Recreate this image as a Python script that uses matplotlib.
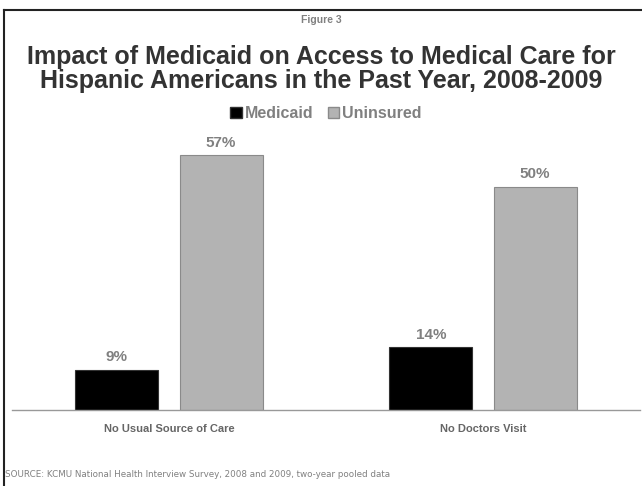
import numpy as np
import matplotlib.pyplot as plt
from matplotlib.lines import Line2D
from matplotlib.patches import Patch

categories = ["No Usual Source of Care", "No Doctors Visit"]
medicaid = [9, 14]
uninsured = [57, 50]
series_names = ["Medicaid", "Uninsured"]

W, H = 642, 486
fig = plt.figure(figsize=(W / 100, H / 100), dpi=100)
plt.rcParams['font.family'] = ['Liberation Sans', 'DejaVu Sans']

def px(x0, y0, x1, y1):
    # pixel box (top-left origin) -> figure fraction rect
    return [x0 / W, 1 - y1 / H, (x1 - x0) / W, (y1 - y0) / H]

ax = fig.add_axes(px(12, 142, 640, 410))
x = np.arange(len(categories))
w = 0.264
off = 0.166
b1 = ax.bar(x - off, medicaid, w, color="black", edgecolor="#333333", linewidth=0.8)
b2 = ax.bar(x + off, uninsured, w, color="#b3b3b3", edgecolor="#8a8a8a", linewidth=0.8)

for bars, vals in [(b1, medicaid), (b2, uninsured)]:
    for r, v in zip(bars, vals):
        ax.text(r.get_x() + r.get_width() / 2, v + 1.3, f"{v}%", ha="center", va="bottom",
                fontsize=11, fontweight="bold", color="#808080")

ax.set_xlim(-0.5, 1.5)
ax.set_ylim(0, 60)
ax.set_yticks([])
ax.set_xticks(x)
ax.set_xticklabels(categories, fontsize=8, fontweight="bold", color="#666666")
ax.tick_params(axis="x", length=0, pad=10)
for s in ["top", "right", "left"]:
    ax.spines[s].set_visible(False)
ax.spines["bottom"].set_color("#999999")
ax.spines["bottom"].set_linewidth(1)

handles = [Patch(facecolor="black", edgecolor="#333333"),
           Patch(facecolor="#b3b3b3", edgecolor="#8a8a8a")]
fig.legend(handles, series_names, loc="center", bbox_to_anchor=(326 / W, 1 - 114 / H),
           ncol=2, frameon=False, handlelength=0.7, handleheight=0.7, handletextpad=0.2,
           columnspacing=0.9, prop={"weight": "bold", "size": 11.5}, labelcolor="#808080")

fig.text(321 / W, 1 - 20 / H, "Figure 3", ha="center", va="center", fontsize=7.5,
         fontweight="bold", color="#808080")
fig.text(321 / W, 1 - 69 / H,
         "Impact of Medicaid on Access to Medical Care for\nHispanic Americans in the Past Year, 2008-2009",
         ha="center", va="center", fontsize=18, fontweight="bold", color="#333333",
         linespacing=1.0)
fig.text(5 / W, 1 - 474 / H,
         "SOURCE: KCMU National Health Interview Survey, 2008 and 2009, two-year pooled data",
         ha="left", va="center", fontsize=6.3, color="#808080", family="DejaVu Sans")

# frame lines
fig.add_artist(Line2D([4 / W, 1], [1 - 10 / H, 1 - 10 / H], color="#222222", linewidth=1.5))
fig.add_artist(Line2D([4 / W, 4 / W], [0, 1 - 10 / H], color="#222222", linewidth=1.5))

fig.savefig("out.png", dpi=100)
